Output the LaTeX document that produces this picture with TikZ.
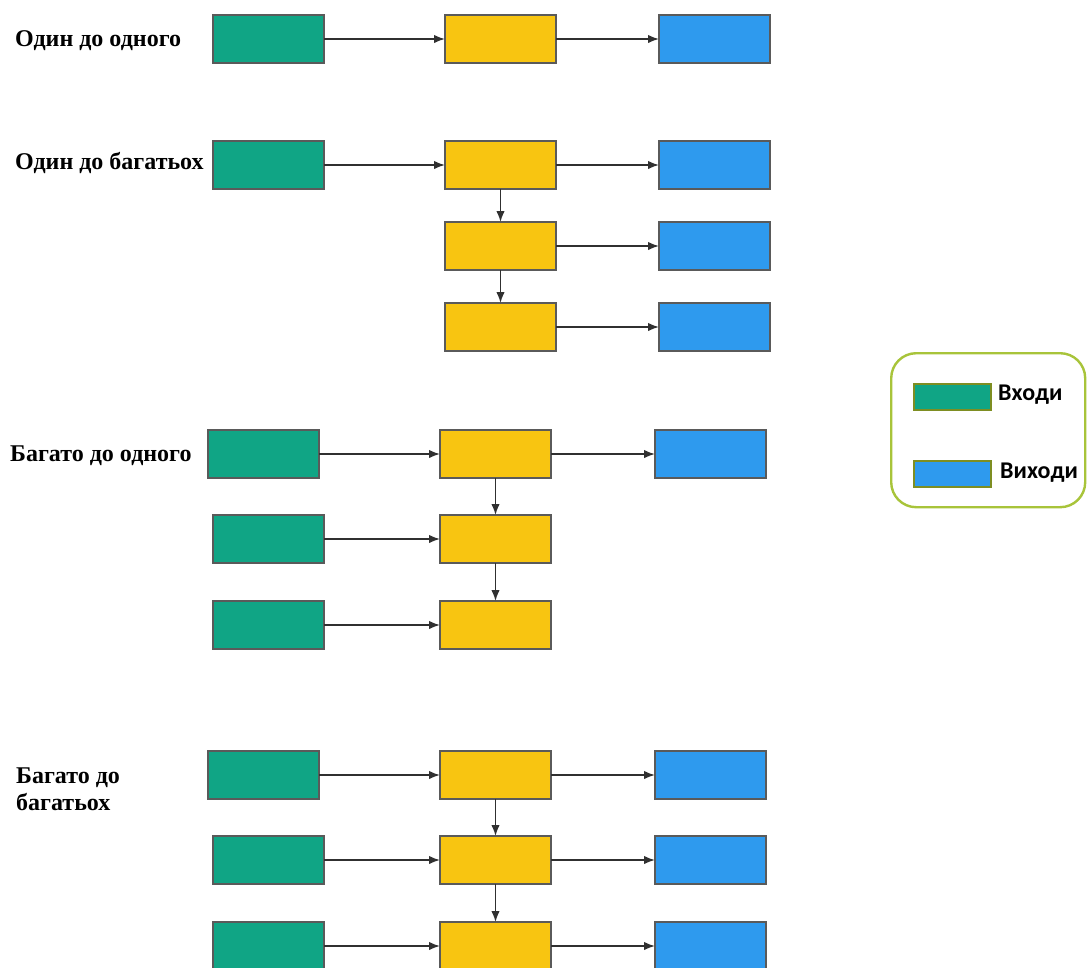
\documentclass[tikz,border=0pt]{standalone}
\usepackage{fontspec}
\setmainfont{Liberation Serif}
\newfontfamily\legendfont{Carlito}
\usetikzlibrary{arrows.meta}
\definecolor{inclr}{HTML}{10A585}
\definecolor{hidclr}{HTML}{F8C511}
\definecolor{outclr}{HTML}{2E9AEE}
\definecolor{boxline}{HTML}{5A5A5A}
\definecolor{linkclr}{HTML}{303030}
\definecolor{legline}{HTML}{A8C43A}
\definecolor{swline}{HTML}{7E8E22}
\tikzset{
  box/.style={draw=boxline, line width=1.8pt, minimum width=111pt, minimum height=48pt,
              inner sep=0pt, outer sep=0pt, anchor=north west},
  inbox/.style={box, fill=inclr},
  hidbox/.style={box, fill=hidclr},
  outbox/.style={box, fill=outclr},
  link/.style={draw=linkclr, line width=1.7pt, -{Latex[length=11pt,width=8.5pt]}},
  title/.style={anchor=west, inner sep=0pt, font=\bfseries\fontsize{24}{27}\selectfont},
  swatch/.style={draw=swline, line width=1.8pt, minimum width=77pt, minimum height=26pt,
                 inner sep=0pt, anchor=north west},
  legtext/.style={anchor=west, inner sep=0pt, font=\legendfont\bfseries\fontsize{24}{26}\selectfont}
}
\begin{document}
\begin{tikzpicture}[x=1pt,y=-1pt]
\useasboundingbox (0,0) rectangle (1087,967);
\clip (0,0) rectangle (1087,967);
\fill[white] (0,0) rectangle (1087,967);

% one to one
\node[title] (t1) at (15,41) {Один до одного};
\node[inbox]  (a1) at (213,15) {};
\node[hidbox] (b1) at (445,15) {};
\node[outbox] (c1) at (659,15) {};
\draw[link] (a1.east) -- (b1.west);
\draw[link] (b1.east) -- (c1.west);

% one to many
\node[title] (t2) at (15,163) {Один до багатьох};
\node[inbox]  (a2)  at (213,141) {};
\node[hidbox] (b2)  at (445,141) {};
\node[hidbox] (b2b) at (445,222) {};
\node[hidbox] (b2c) at (445,303) {};
\node[outbox] (c2)  at (659,141) {};
\node[outbox] (c2b) at (659,222) {};
\node[outbox] (c2c) at (659,303) {};
\draw[link] (a2.east) -- (b2.west);
\draw[link] (b2.east) -- (c2.west);
\draw[link] (b2b.east) -- (c2b.west);
\draw[link] (b2c.east) -- (c2c.west);
\draw[link] (b2.south) -- (b2b.north);
\draw[link] (b2b.south) -- (b2c.north);

% many to one
\node[title] (t3) at (10,456) {Багато до одного};
\node[inbox]  (a3)  at (208,430) {};
\node[inbox]  (a3b) at (213,515) {};
\node[inbox]  (a3c) at (213,601) {};
\node[hidbox] (b3)  at (440,430) {};
\node[hidbox] (b3b) at (440,515) {};
\node[hidbox] (b3c) at (440,601) {};
\node[outbox] (c3)  at (655,430) {};
\draw[link] (a3.east) -- (b3.west);
\draw[link] (a3b.east) -- (b3b.west);
\draw[link] (a3c.east) -- (b3c.west);
\draw[link] (b3.east) -- (c3.west);
\draw[link] (b3.south) -- (b3b.north);
\draw[link] (b3b.south) -- (b3c.north);

% many to many
\node[title, align=left] (t4) at (16,789) {Багато до\\багатьох};
\node[inbox]  (a4)  at (208,751) {};
\node[inbox]  (a4b) at (213,836) {};
\node[inbox]  (a4c) at (213,922) {};
\node[hidbox] (b4)  at (440,751) {};
\node[hidbox] (b4b) at (440,836) {};
\node[hidbox] (b4c) at (440,922) {};
\node[outbox] (c4)  at (655,751) {};
\node[outbox] (c4b) at (655,836) {};
\node[outbox] (c4c) at (655,922) {};
\draw[link] (a4.east) -- (b4.west);
\draw[link] (a4b.east) -- (b4b.west);
\draw[link] (a4c.east) -- (b4c.west);
\draw[link] (b4.east) -- (c4.west);
\draw[link] (b4b.east) -- (c4b.west);
\draw[link] (b4c.east) -- (c4c.west);
\draw[link] (b4.south) -- (b4b.north);
\draw[link] (b4b.south) -- (b4c.north);

% legend
\node[draw=legline, line width=2.4pt, rounded corners=25pt, minimum width=194pt,
      minimum height=154pt, inner sep=0pt, anchor=north west] (legend) at (890,352) {};
\node[swatch, fill=inclr]  (lin)  at (913,383) {};
\node[swatch, fill=outclr] (lout) at (913,460) {};
\node[legtext] (lint)  at (998,395) {Входи};
\node[legtext] (loutt) at (1000,473) {Виходи};
\end{tikzpicture}
\end{document}
